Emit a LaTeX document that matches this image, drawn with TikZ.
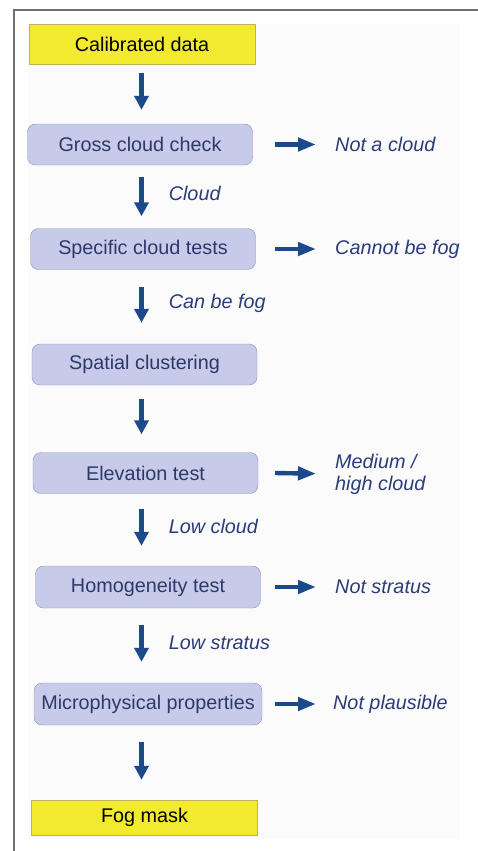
\documentclass[tikz,border=0pt]{standalone}
\usepackage{fontspec}
\setmainfont{Liberation Sans}
\usetikzlibrary{arrows.meta}
\definecolor{boxfill}{HTML}{C7CBE9}
\definecolor{boxline}{HTML}{9094B6}
\definecolor{boxtext}{HTML}{2E396A}
\definecolor{flowblue}{HTML}{1B4A8C}
\definecolor{labelblue}{HTML}{2A3C7A}
\definecolor{datayellow}{HTML}{F2EA2E}
\definecolor{yellowline}{HTML}{BDB45A}
\definecolor{framegrey}{HTML}{6E6E6E}
\definecolor{panel}{HTML}{FBFBFB}
\tikzset{
	test/.style={draw=boxline, fill=boxfill, rounded corners=8pt, minimum height=41pt,
		minimum width=225pt, inner sep=0pt, text=boxtext, font=\fontsize{19.8}{22}\selectfont},
	data/.style={draw=yellowline, fill=datayellow, minimum height=40pt,
		minimum width=226pt, inner sep=0pt, font=\fontsize{19.8}{22}\selectfont},
	outcome/.style={anchor=west, inner sep=0pt, text=labelblue, align=left,
		font=\fontsize{19.8}{22}\selectfont\itshape},
	flowlabel/.style={anchor=west, inner sep=0pt, xshift=25pt, yshift=3pt, text=labelblue,
		font=\fontsize{19.8}{22}\selectfont\itshape},
	down/.style={flowblue, line width=4.6pt, -{Triangle[length=14pt,width=14pt]}},
	side/.style={flowblue, line width=4.4pt, shorten >=19pt, -{Triangle[length=18pt,width=13pt]}}
}

\begin{document}
\begin{tikzpicture}[x=1pt,y=-1pt]
	\useasboundingbox (0,0) rectangle (478,851);
	\fill[panel] (28,24) rectangle (460,839);
	\draw[framegrey, line width=1.2pt] (14,851) -- (14,10) -- (478,10);
	\coordinate (spine) at (141.5,0);
	\coordinate (out) at (275,0);

	\node[data] (cal) at (142,44) {Calibrated data};
	\node[test] (gross) at (140,144.5) {Gross cloud check};
	\node[test] (spec) at (143,249) {Specific cloud tests};
	\node[test] (spat) at (144.5,364.5) {Spatial clustering};
	\node[test] (elev) at (145.5,473) {Elevation test};
	\node[test, minimum height=42pt] (homo) at (148,587) {Homogeneity test};
	\node[test, minimum width=228pt, minimum height=42pt] (micro) at (148,704) {Microphysical properties};
	\node[data, minimum height=35pt] (fog) at (144.5,817.5) {Fog mask};

	\node[outcome] (notcloud) at (335,144.5) {Not a cloud};
	\node[outcome] (notfog) at (335,249) {Cannot be fog};
	\node[outcome] (highcloud) at (335,474) {Medium /\\high cloud};
	\node[outcome] (notstratus) at (335,587) {Not stratus};
	\node[outcome] (notplaus) at (333,704) {Not plausible};

	\draw[down, shorten <=9pt, shorten >=14pt] (cal.south -| spine) -- (gross.north -| spine);
	\draw[down, shorten <=12pt, shorten >=12pt] (gross.south -| spine) -- node[flowlabel] (lcloud) {Cloud} (spec.north -| spine);
	\draw[down, shorten <=17pt, shorten >=21pt] (spec.south -| spine) -- node[flowlabel] (lfog) {Can be fog} (spat.north -| spine);
	\draw[down, shorten <=14pt, shorten >=18pt] (spat.south -| spine) -- (elev.north -| spine);
	\draw[down, shorten <=15pt, shorten >=20pt] (elev.south -| spine) -- node[flowlabel] (llow) {Low cloud} (homo.north -| spine);
	\draw[down, shorten <=17pt, shorten >=21pt] (homo.south -| spine) -- node[flowlabel] (lstratus) {Low stratus} (micro.north -| spine);
	\draw[down, shorten <=17pt, shorten >=20pt] (micro.south -| spine) -- (fog.north -| spine);

	\draw[side] (gross.east -| out) -- (notcloud.west);
	\draw[side] (spec.east -| out) -- (notfog.west);
	\draw[side] (elev.east -| out) -- (highcloud.west);
	\draw[side] (homo.east -| out) -- (notstratus.west);
	\draw[side, shorten >=17pt] (micro.east -| out) -- (notplaus.west);
\end{tikzpicture}
\end{document}
